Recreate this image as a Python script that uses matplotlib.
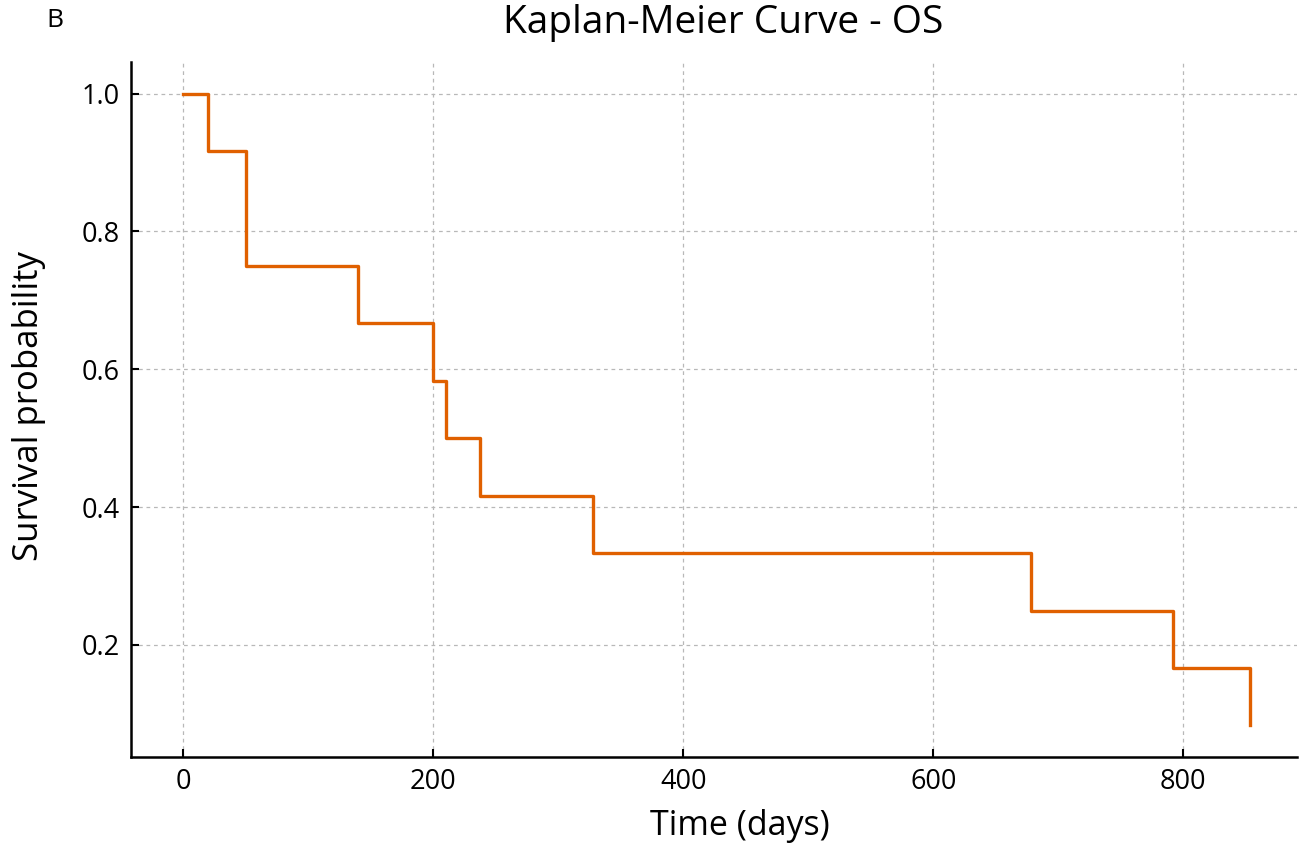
import numpy as np
import matplotlib.pyplot as plt

plt.rcParams['font.family'] = ['Open Sans', 'DejaVu Sans']

# Kaplan-Meier step points (time in days, survival probability)
times = [0, 20, 50, 140, 200, 210, 237, 328, 678, 792, 853]
surv = [1.0, 0.9167, 0.75, 0.6667, 0.5833, 0.5, 0.4167, 0.3333, 0.25, 0.1667, 0.0833]

fig = plt.figure(figsize=(12.99, 8.46), dpi=100)
ax = fig.add_axes([0.1008, 0.1052, 0.8977, 0.8215])

ax.step(times, surv, where='post', color='#e06000', lw=2.4)

ax.set_xlim(-42, 891)
ax.set_ylim(0.0375, 1.0458)
ax.set_xticks([0, 200, 400, 600, 800])
ax.set_yticks([0.2, 0.4, 0.6, 0.8, 1.0])
ax.grid(True, ls=(0, (3, 3)), color='#b8b8b8', lw=0.9)
ax.tick_params(direction='in', labelsize=19.5, length=6, width=1.5, pad=8)
for s in ['top', 'right']:
    ax.spines[s].set_visible(False)
for s in ['left', 'bottom']:
    ax.spines[s].set_linewidth(1.8)

ax.set_xlabel('Time (days)', fontsize=24.5)
ax.xaxis.set_label_coords(0.5223, -0.075)
ax.set_ylabel('Survival probability', fontsize=25)
ax.yaxis.set_label_coords(-0.073, 0.505)
fig.text(0.5566, 0.995, 'Kaplan-Meier Curve - OS', ha='center', va='top', fontsize=28)
fig.text(0.036, 0.99, 'B', ha='left', va='top', fontsize=19)

fig.savefig('out.png', dpi=100)
